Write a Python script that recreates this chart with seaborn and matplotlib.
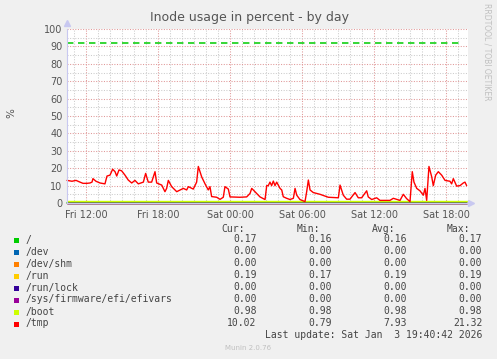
import matplotlib
matplotlib.use("Agg")
import matplotlib.pyplot as plt
import seaborn as sns
import pandas as pd
import numpy as np

# ---------------- data ----------------
# hours relative to Fri 12:00
tmp_hours = [-1.58, -1.17, -0.83, -0.5, -0.25, 0.08, 0.33, 0.5, 0.58, 0.83, 1.17, 1.58, 1.75, 2.0,
             2.22, 2.42, 2.56, 2.75, 2.97, 3.25, 3.52, 3.81, 4.08, 4.36, 4.78, 4.97, 5.19, 5.47,
             5.75, 5.89, 6.31, 6.58, 6.72, 6.86, 7.14, 7.56, 8.11, 8.39, 8.53, 8.94, 9.22, 9.36,
             9.64, 9.92, 10.19, 10.33, 10.47, 10.89, 11.17, 11.44, 11.58, 11.86, 12.0, 12.83,
             13.39, 13.67, 13.81, 14.08, 14.5, 14.92, 15.06, 15.19, 15.33, 15.47, 15.61, 15.75,
             15.89, 16.17, 16.31, 16.44, 16.72, 17.0, 17.28, 17.42, 17.56, 17.83, 18.25, 18.39,
             18.53, 18.67, 18.94, 19.5, 20.19, 21.03, 21.17, 21.44, 21.72, 22.0, 22.42, 22.69,
             22.97, 23.39, 23.52, 23.81, 24.22, 24.5, 25.33, 25.61, 26.17, 26.44, 26.72, 27.0,
             27.19, 27.33, 27.56, 27.83, 28.11, 28.25, 28.39, 28.58, 28.81, 28.94, 29.14, 29.36,
             29.64, 29.92, 30.33, 30.47, 30.61, 30.89, 31.17, 31.44, 31.58, 31.72]
tmp_values = [13, 12.5, 13, 12, 11.3, 11.3, 11.5, 12, 14, 12.5, 11.5, 11, 15.5, 16,
              19.4, 18, 15.5, 19, 18.5, 16, 13.2, 11.5, 13, 11, 12, 17, 12, 12,
              18, 11.5, 10.3, 6.5, 8.4, 13, 9.4, 6.5, 8.4, 7.5, 9.4, 8, 12, 21,
              15, 11, 7.5, 9.4, 3.7, 3.3, 2.1, 3.3, 9.4, 8, 3.5, 3.3,
              3.5, 5.5, 8.4, 6.5, 3.5, 2, 10, 10, 12, 10, 12.6, 10,
              12, 8.4, 7.5, 3.6, 2.7, 2, 2.7, 8.4, 4.5, 2, 0.8, 6.5,
              13.2, 7.5, 6, 5, 3.3, 3, 10.3, 4.5, 2.2, 2.2, 6, 3,
              3, 7, 3.5, 2, 3, 1.5, 1.5, 2.7, 1.5, 5, 2.5, 0.8,
              18, 12, 8.4, 7, 4.5, 8.4, 1.5, 21, 15, 10, 16, 18,
              16, 13, 12.5, 11, 14, 9.7, 10, 11.5, 12, 10]

span_hours = [-1.58, 31.72]
flat_series = {
    "/": [0.16, 0.17],
    "/dev": [0.00, 0.00],
    "/dev/shm": [0.00, 0.00],
    "/run": [0.19, 0.19],
    "/run/lock": [0.00, 0.00],
    "/sys/firmware/efi/efivars": [0.00, 0.00],
    "/boot": [0.98, 0.98],
}
series_names = ["/", "/dev", "/dev/shm", "/run", "/run/lock",
                "/sys/firmware/efi/efivars", "/boot", "/tmp"]
colors = ["#00cc00", "#0066b3", "#ff8000", "#ffcc00", "#330099",
          "#990099", "#ccff00", "#ff0000"]
cur = ["0.17", "0.00", "0.00", "0.19", "0.00", "0.00", "0.98", "10.02"]
mins = ["0.16", "0.00", "0.00", "0.17", "0.00", "0.00", "0.98", "0.79"]
avgs = ["0.16", "0.00", "0.00", "0.19", "0.00", "0.00", "0.98", "7.93"]
maxs = ["0.17", "0.00", "0.00", "0.19", "0.00", "0.00", "0.98", "21.32"]
warning_level = 92
xtick_pos = [0, 6, 12, 18, 24, 30]
xtick_labels = ["Fri 12:00", "Fri 18:00", "Sat 00:00", "Sat 06:00", "Sat 12:00", "Sat 18:00"]

# ---------------- frame ----------------
rows = []
for name in series_names[:-1]:
    for h, v in zip(span_hours, flat_series[name]):
        rows.append((name, h, v))
for h, v in zip(tmp_hours, tmp_values):
    rows.append(("/tmp", h, v))
df = pd.DataFrame(rows, columns=["fs", "hour", "value"])

sns.set_style("white")
W, H = 497, 359
fig = plt.figure(figsize=(W / 100, H / 100), dpi=100, facecolor="#f0f0f0")
L, R, T, B = 66.5, 468, 29, 203
ax = fig.add_axes([L / W, 1 - B / H, (R - L) / W, (B - T) / H])
ax.set_facecolor("white")

xmin, xmax = (L - 86) / 12, (R - 86) / 12
ax.set_xlim(xmin, xmax)
ax.set_ylim(0, 100)

# grid
from matplotlib.ticker import MultipleLocator
ax.xaxis.set_major_locator(MultipleLocator(3))
ax.xaxis.set_minor_locator(MultipleLocator(1))
ax.yaxis.set_major_locator(MultipleLocator(10))
ax.yaxis.set_minor_locator(MultipleLocator(5))
ax.grid(which="minor", color="#cccccc", linestyle=(0, (1, 1.5)), linewidth=0.75)
ax.grid(which="major", color="#e09898", linestyle=(0, (1, 1.5)), linewidth=0.75)
ax.set_axisbelow(True)

# warning line
ax.plot([xmin, (461.7 - 86) / 12], [warning_level, warning_level], color="#00cc00",
        linewidth=1.1, linestyle=(0, (4.2, 3.0)))

sns.lineplot(data=df, x="hour", y="value", hue="fs", hue_order=series_names,
             palette=colors, legend=False, linewidth=1.0, ax=ax, sort=False,
             estimator=None)
for ln in ax.lines:
    ln.set_clip_on(False)

ax.set_xticks(xtick_pos)
ax.set_xticklabels(xtick_labels)
ax.set_yticks(range(0, 101, 10))
ax.tick_params(axis="both", which="both", length=0, labelsize=7, labelcolor="#555555")
ax.tick_params(axis="x", pad=5)
ax.tick_params(axis="y", pad=3)
ax.set_xlabel("")
ax.set_ylabel("")
for s in ["top", "right"]:
    ax.spines[s].set_visible(False)
ax.spines["left"].set_color("#c8c8f0")
ax.spines["bottom"].set_color("#c8c8f0")
ax.spines["left"].set_linewidth(0.8)
ax.spines["bottom"].set_linewidth(0.8)
ax.plot([0], [1.035], marker="^", color="#c8c8f0", markersize=4, transform=ax.transAxes,
        clip_on=False)
ax.plot([1.007], [0], marker=">", color="#c8c8f0", markersize=4, transform=ax.transAxes,
        clip_on=False)

# texts
fig.text(250 / W, 1 - 18 / H, "Inode usage in percent - by day", ha="center", va="center",
         fontsize=9, color="#555555")
fig.text(11 / W, 1 - 113 / H, "%", ha="center", va="center", rotation=90,
         fontsize=7.5, color="#555555")
fig.text(487 / W, 1 - 52 / H, "RRDTOOL / TOBI OETIKER", ha="center", va="center",
         rotation=270, fontsize=5.5, color="#c0c0c0")

mono = "DejaVu Sans Mono"
fs = 7
tc = "#444444"
def ty(y):
    return 1 - y / H
for x, lab in [(245, "Cur:"), (320, "Min:"), (395, "Avg:"), (470, "Max:")]:
    fig.text(x / W, ty(228.5), lab, ha="right", va="center", family=mono, fontsize=fs, color=tc)
for i, name in enumerate(series_names):
    y = 239.5 + 12 * i
    fig.patches.append(plt.Rectangle((14 / W, 1 - (y + 3) / H), 5 / W, 5 / H,
                                     transform=fig.transFigure, facecolor=colors[i],
                                     edgecolor="none"))
    fig.text(26 / W, ty(y), name, ha="left", va="center", family=mono, fontsize=fs, color=tc)
    for x, col in [(256.7, cur), (332.3, mins), (407.3, avgs), (482.3, maxs)]:
        fig.text(x / W, ty(y), col[i], ha="right", va="center", family=mono, fontsize=fs, color=tc)
fig.text(482.3 / W, ty(335.5), "Last update: Sat Jan  3 19:40:42 2026", ha="right", va="center",
         family=mono, fontsize=fs, color=tc)
fig.text(248 / W, ty(348.5), "Munin 2.0.76", ha="center", va="center", fontsize=5,
         color="#c0c0c0")

fig.savefig("out.png", dpi=100, facecolor="#f0f0f0")
